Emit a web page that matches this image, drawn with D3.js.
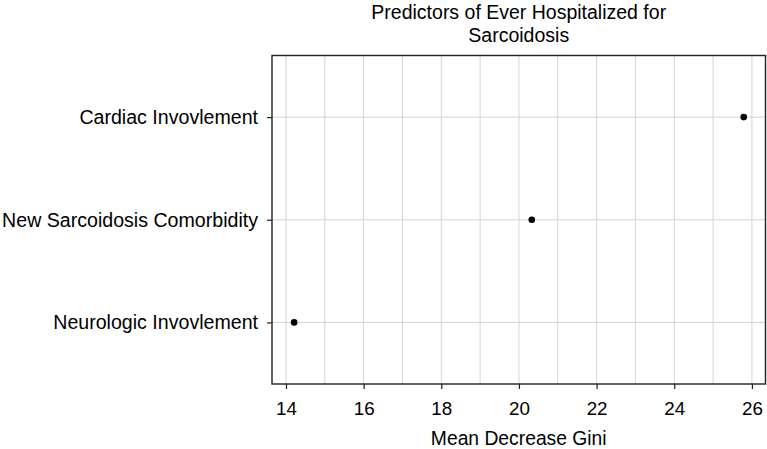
<!doctype html>
<html lang="en">
<head>
    <meta charset="UTF-8">
    <title>Predictors of Ever Hospitalized for Sarcoidosis</title>
    <script src="https://cdnjs.cloudflare.com/ajax/libs/d3/7.8.5/d3.min.js"></script>
    <style>
        body { margin: 0; background: #fff; }
        text { font-family: "Liberation Sans", Arial, Helvetica, sans-serif; fill: #000; }
    </style>
</head>
<body>
<svg id="chart" width="767" height="449"></svg>
<script>

    // data
    var predictors = ['Cardiac Invovlement', 'New Sarcoidosis Comorbidity', 'Neurologic Invovlement'];
    var giniValues = [25.79, 20.33, 14.21];
    var xTicks = [14, 16, 18, 20, 22, 24, 26];
    var xMinor = [15, 17, 19, 21, 23, 25];
    var titleLines = ['Predictors of Ever Hospitalized for', 'Sarcoidosis'];
    var xTitle = 'Mean Decrease Gini';

    var width = 767, height = 449;
    var margin = {top: 55.5, right: 1.5, bottom: 65, left: 272};

    var svg = d3.select('#chart');

    var x = d3.scaleLinear()
        .domain([13.64, 26.35])
        .range([margin.left, width - margin.right]);

    // discrete axis with 0.6 expansion on each side
    var y = d3.scaleLinear()
        .domain([0.4, predictors.length + 0.6])
        .range([margin.top, height - margin.bottom]);

    function yPos(i) { return y(i + 1); }

    var grid = svg.append('g');

    grid.selectAll('line.minor')
        .data(xMinor)
        .enter().append('line')
        .attr('class', 'minor')
        .attr('x1', function (d) { return x(d); })
        .attr('x2', function (d) { return x(d); })
        .attr('y1', margin.top)
        .attr('y2', height - margin.bottom)
        .attr('stroke', '#d4d4d4')
        .attr('stroke-width', 1);

    grid.selectAll('line.major')
        .data(xTicks)
        .enter().append('line')
        .attr('class', 'major')
        .attr('x1', function (d) { return x(d); })
        .attr('x2', function (d) { return x(d); })
        .attr('y1', margin.top)
        .attr('y2', height - margin.bottom)
        .attr('stroke', '#d4d4d4')
        .attr('stroke-width', 1);

    grid.selectAll('line.hgrid')
        .data(predictors)
        .enter().append('line')
        .attr('class', 'hgrid')
        .attr('x1', margin.left)
        .attr('x2', width - margin.right)
        .attr('y1', function (d, i) { return yPos(i); })
        .attr('y2', function (d, i) { return yPos(i); })
        .attr('stroke', '#d4d4d4')
        .attr('stroke-width', 1);

    // points
    svg.selectAll('circle')
        .data(giniValues)
        .enter().append('circle')
        .attr('cx', function (d) { return x(d); })
        .attr('cy', function (d, i) { return yPos(i); })
        .attr('r', 3.3)
        .attr('fill', '#000');

    // panel border
    svg.append('rect')
        .attr('x', margin.left)
        .attr('y', margin.top)
        .attr('width', width - margin.right - margin.left)
        .attr('height', height - margin.bottom - margin.top)
        .attr('fill', 'none')
        .attr('stroke', '#222')
        .attr('stroke-width', 1.4);

    // x axis
    var xAxis = d3.axisBottom(x)
        .tickValues(xTicks)
        .tickSize(5)
        .tickPadding(13)
        .tickFormat(d3.format('d'));

    var gx = svg.append('g')
        .attr('transform', 'translate(0,' + (height - margin.bottom) + ')')
        .call(xAxis);
    gx.select('.domain').remove();
    gx.selectAll('line').attr('stroke', '#222').attr('stroke-width', 1.2);
    gx.selectAll('text')
        .attr('font-size', '18.8px')
        .style('font-family', '"Liberation Sans", Arial, sans-serif')
        .attr('fill', '#000');

    // y axis
    var yAxis = d3.axisLeft(y)
        .tickValues(predictors.map(function (d, i) { return i + 1; }))
        .tickSize(5)
        .tickPadding(9)
        .tickFormat(function (d) { return predictors[d - 1]; });

    var gy = svg.append('g')
        .attr('transform', 'translate(' + margin.left + ',0)')
        .call(yAxis);
    gy.select('.domain').remove();
    gy.selectAll('line').attr('stroke', '#222').attr('stroke-width', 1.2);
    gy.selectAll('text')
        .attr('font-size', '19.6px')
        .style('font-family', '"Liberation Sans", Arial, sans-serif')
        .attr('fill', '#000');

    // axis title
    svg.append('text')
        .attr('x', (margin.left + width - margin.right) / 2)
        .attr('y', 445)
        .attr('text-anchor', 'middle')
        .attr('font-size', '19.3px')
        .text(xTitle);

    // title
    svg.selectAll('text.title')
        .data(titleLines)
        .enter().append('text')
        .attr('class', 'title')
        .attr('x', (margin.left + width - margin.right) / 2)
        .attr('y', function (d, i) { return 19 + i * 23; })
        .attr('text-anchor', 'middle')
        .attr('font-size', '19.5px')
        .text(function (d) { return d; });

</script>
</body>
</html>
